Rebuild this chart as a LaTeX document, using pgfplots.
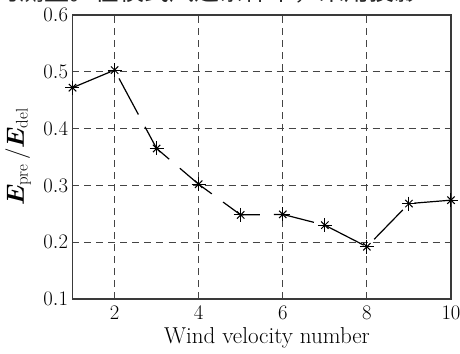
\documentclass[border=0pt]{standalone}
\usepackage{pgfplots}
\pgfplotsset{compat=1.18}
\usepackage{bm}
\usepackage{fontspec}
\newfontfamily\cjk{Noto Sans CJK SC}
\definecolor{framegray}{HTML}{3A3A3A}
\definecolor{gridgray}{HTML}{444444}
\begin{document}
\begin{tikzpicture}
\node[anchor=base west, inner sep=0pt, font=\cjk\fontsize{25bp}{27bp}\selectfont, text=black!85] at (-78bp,298bp) {的测量。在模式风速条件下，采用投影};
\begin{axis}[
  at={(0,0)}, anchor=south west,
  scale only axis,
  width=378.5bp, height=284bp,
  xmin=1, xmax=10, ymin=0.1, ymax=0.6,
  xtick={2,4,6,8,10},
  ytick={0.1,0.2,0.3,0.4,0.5,0.6},
  yticklabel style={/pgf/number format/fixed, /pgf/number format/fixed zerofill, /pgf/number format/precision=1},
  tick label style={font=\fontsize{21bp}{23bp}\selectfont},
  major tick length=0pt,
  xticklabel style={yshift=-4bp},
  yticklabel style={xshift=-1bp},
  axis line style={draw=framegray, line width=1.2bp},
  grid=major,
  major grid style={draw=gridgray, line width=0.9bp, dash pattern=on 7bp off 5bp},
  xlabel={Wind velocity number},
  xlabel style={font=\fontsize{23bp}{25bp}\selectfont, at={(axis description cs:0.514,-0.137)}, anchor=center},
  ylabel={$\bm{E}_{\mathrm{pre}}\,/\bm{E}_{\mathrm{del}}$},
  ylabel style={font=\fontsize{24bp}{26bp}\selectfont, at={(axis description cs:-0.144,0.5)}, anchor=center, rotate=0},
  clip=false,
]
\addplot[black, line width=1.2bp, dash pattern=on 41bp off 14bp, mark=+, mark size=7bp, mark options={solid, line width=1bp}] coordinates {
(1,0.472) (2,0.503) (3,0.365) (4,0.302) (5,0.248) (6,0.249) (7,0.230) (8,0.192) (9,0.268) (10,0.274)
};
\addplot[only marks, black, mark=x, mark size=5.2bp, mark options={solid, line width=1bp}, forget plot] coordinates {
(1,0.472) (2,0.503) (3,0.365) (4,0.302) (5,0.248) (6,0.249) (7,0.230) (8,0.192) (9,0.268) (10,0.274)
};
\end{axis}
\pgfresetboundingbox
\useasboundingbox (-72.5bp,-55bp) rectangle (387.5bp,299bp);
\end{tikzpicture}
\end{document}
